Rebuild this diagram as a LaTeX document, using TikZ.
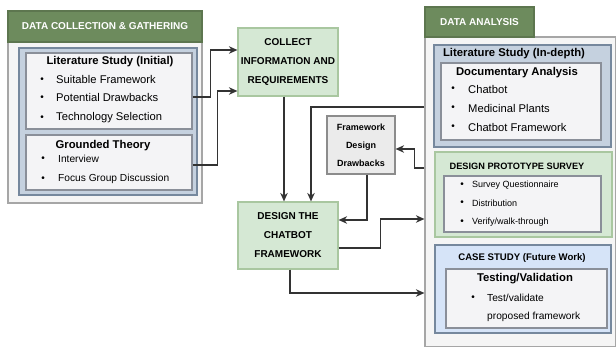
\documentclass[tikz,border=0pt]{standalone}
\usepackage{fontspec}
\setmainfont{Liberation Sans}
\usetikzlibrary{arrows.meta,positioning,calc}

\definecolor{hdrgreen}{HTML}{6D8B5D}
\definecolor{stepfill}{HTML}{D5E8D4}
\definecolor{stepline}{HTML}{A9C7A0}
\definecolor{grpfill}{HTML}{F5F5F5}
\definecolor{grpline}{HTML}{A6A6A6}
\definecolor{steelfill}{HTML}{C5D1DF}
\definecolor{steelline}{HTML}{76889D}
\definecolor{skyfill}{HTML}{D6E4F8}
\definecolor{paperfill}{HTML}{F4F4F6}
\definecolor{paperline}{HTML}{8A8F99}
\definecolor{notefill}{HTML}{EBEBEB}
\definecolor{noteline}{HTML}{8C8C8C}
\definecolor{wire}{HTML}{333333}

\tikzset{
    panel/.style={inner sep=0pt, line width=1.2pt},
    hdr/.style={panel, fill=hdrgreen, draw=hdrgreen!85!black, text=white,
        font=\bfseries\fontsize{10}{12}\selectfont},
    stepbox/.style={panel, fill=stepfill, draw=stepline, align=center,
        font=\bfseries\fontsize{10}{19}\selectfont},
    ttl/.style={inner sep=0pt, font=\bfseries\fontsize{11.3}{13}\selectfont},
    itm/.style={inner sep=0pt, anchor=west, font=\fontsize{11.2}{13}\selectfont},
    bul/.style={inner sep=0pt, font=\fontsize{10}{12}\selectfont},
    flow/.style={draw=wire, line width=1.2pt, -{Stealth[length=8.5pt,width=7.5pt]}},
}

\begin{document}
\begin{tikzpicture}[x=1pt, y=-1pt]
        \useasboundingbox (0,0) rectangle (616,347);

        % data collection group
        \node[panel, fill=grpfill, draw=grpline, minimum width=194pt, minimum height=192pt] (dcbox) at (105,107) {};
        \node[hdr, minimum width=194pt, minimum height=31pt] (dchdr) at (105,26.5) {DATA COLLECTION \& GATHERING};
        \node[panel, fill=steelfill, draw=steelline, minimum width=178pt, minimum height=147pt] (dcin) at (108,121.5) {};
        \node[panel, fill=paperfill, draw=paperline, minimum width=166pt, minimum height=76pt] (lit1) at (109,91) {};
        \node[panel, fill=paperfill, draw=paperline, minimum width=166pt, minimum height=55pt] (gt) at (109,162.5) {};

        \node[ttl] (lit1t) at (110,62) {Literature Study (Initial)};
        \foreach \y/\t in {80/Suitable Framework, 98/Potential Drawbacks, 118/Technology Selection} {
            \node[bul] (lit1b\y) at (42,\y) {\textbullet};
            \node[itm] (lit1i\y) at (56,\y) {\t};
        }
        \node[ttl] (gtt) at (103,146) {Grounded Theory};
        \foreach \y/\t in {159/Interview, 179/Focus Group Discussion} {
            \node[bul] (gtb\y) at (43,\y) {\textbullet};
            \node[itm, font=\fontsize{10.2}{12}\selectfont] (gti\y) at (58,\y) {\t};
        }

        % middle steps
        \node[stepbox, minimum width=100pt, minimum height=68pt] (collect) at (288,62) {COLLECT\\INFORMATION AND\\REQUIREMENTS};
        \node[stepbox, minimum width=100pt, minimum height=67pt] (design) at (288,235.5) {DESIGN THE\\CHATBOT\\FRAMEWORK};
        \node[panel, fill=notefill, draw=noteline, minimum width=68pt, minimum height=58pt, align=center,
            font=\bfseries\fontsize{9}{18}\selectfont] (fdd) at (361,145) {Framework\\Design\\Drawbacks};

        % data analysis group
        \node[panel, fill=grpfill, draw=grpline, minimum width=191pt, minimum height=310pt] (dabox) at (520.5,192) {};
        \node[hdr, minimum width=109pt, minimum height=30pt] (dahdr) at (479.5,22) {DATA ANALYSIS};

        \node[panel, fill=steelfill, draw=steelline, minimum width=177pt, minimum height=102pt] (lit2) at (522.5,96) {};
        \node[ttl] (lit2t) at (514,54) {Literature Study (In-depth)};
        \node[panel, fill=paperfill, draw=paperline, minimum width=160pt, minimum height=77pt] (docs) at (521,101.5) {};
        \node[ttl] (docst) at (517,73) {Documentary Analysis};
        \foreach \y/\t in {89/Chatbot, 108/Medicinal Plants, 127/Chatbot Framework} {
            \node[bul] (docsb\y) at (453,\y) {\textbullet};
            \node[itm] (docsi\y) at (468,\y) {\t};
        }

        \node[panel, fill=stepfill, draw=stepline, minimum width=177pt, minimum height=85pt] (survey) at (523.5,194.5) {};
        \node[ttl, font=\bfseries\fontsize{9.2}{11}\selectfont] (surveyt) at (517,166) {DESIGN PROTOTYPE SURVEY};
        \node[panel, fill=paperfill, draw=paperline, minimum width=157pt, minimum height=56pt] (surveyin) at (522.5,204) {};
        \foreach \y/\t in {185/{Survey Questionnaire}, 203/{Distribution}, 222/{Verify/walk-through}} {
            \node[bul] (surveyb\y) at (462,\y) {\textbullet};
            \node[itm, font=\fontsize{9}{11}\selectfont] (surveyi\y) at (472,\y) {\t};
        }

        \node[panel, fill=skyfill, draw=steelline, minimum width=176pt, minimum height=88pt] (case) at (523,289) {};
        \node[ttl, font=\bfseries\fontsize{9.6}{11}\selectfont] (caset) at (522,258) {CASE STUDY (Future Work)};
        \node[panel, fill=paperfill, draw=paperline, minimum width=161pt, minimum height=59pt] (casein) at (526.5,298.5) {};
        \node[ttl] (caseit) at (525,279) {Testing/Validation};
        \node[bul] (caseb) at (473,298) {\textbullet};
        \node[itm, font=\fontsize{10.2}{12}\selectfont] (casei1) at (487,298) {Test/validate};
        \node[itm, font=\fontsize{10.2}{12}\selectfont] (casei2) at (487,317) {proposed framework};

        % connectors
        \draw[flow] ([yshift=-6pt]lit1.east) -- ++(18,0) |- ([yshift=12pt]collect.west);
        \draw[flow] ([yshift=-2.5pt]gt.east) -- ++(25,0) |- ([yshift=-29pt]collect.west);
        \draw[flow] ([xshift=-4pt]collect.south) -- ([xshift=-4pt]design.north);
        \draw[flow] ([yshift=85pt]dabox.west) -| ([xshift=23pt]design.north);
        \draw[flow] ([yshift=24pt]dabox.west) -- ++(-10,0) |- ([yshift=-4pt]fdd.east);
        \draw[flow] ([xshift=6pt]fdd.south) |- ([yshift=15.5pt]design.east);
        \draw[flow] ([yshift=-12.5pt]design.east) -- ++(42,0) |- ([yshift=-27pt]dabox.west);
        \draw[flow] ([xshift=2pt]design.south) |- ([yshift=-101pt]dabox.west);
\end{tikzpicture}
\end{document}
